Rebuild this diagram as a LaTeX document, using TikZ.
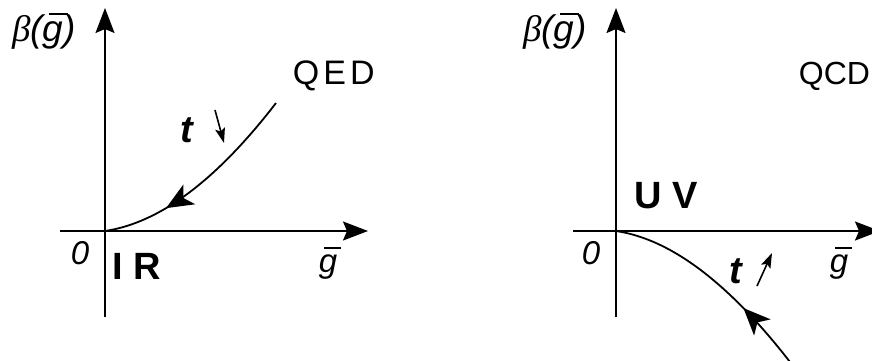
\documentclass[tikz,border=0pt]{standalone}
\usepackage{fontspec}
\setmainfont{Liberation Sans}
\newfontfamily\greekfont{Liberation Serif}
\usetikzlibrary{arrows.meta,decorations.markings}
\newcommand\mygbar{\makebox[0pt][l]{\kern0.17em\raisebox{0.72em}{\rule{0.5em}{0.065em}}}g}
\begin{document}
\begin{tikzpicture}[x=1pt,y=-1pt,line width=1.8pt,
  axisline/.style={-{Stealth[length=25pt,width=19pt,inset=4pt]}},
  smallarrow/.style={line width=1.6pt,-{Stealth[length=15pt,width=10pt,inset=3pt]}},
  flowline/.style={postaction={decorate},decoration={markings,
     mark=at position #1 with {\arrow{Stealth[length=27pt,width=23pt,inset=7pt]}}}},
  lbl/.style={inner sep=0pt},
  betalbl/.style={lbl,font=\fontsize{37}{42}\selectfont},
  gaxlbl/.style={lbl,font=\fontsize{33}{40}\selectfont\itshape},
  zerolbl/.style={lbl,font=\fontsize{33}{40}\selectfont\itshape},
  reglbl/.style={lbl,font=\fontsize{38}{44}\selectfont\bfseries},
  theorylbl/.style={lbl,font=\fontsize{34}{40}\selectfont},
  tlbl/.style={lbl,font=\fontsize{38}{42}\selectfont\bfseries\itshape}]
\useasboundingbox (0,0) rectangle (872,360);
% left panel
\coordinate (O1) at (105,231);
\coordinate (Y1t) at (105,8);
\coordinate (Y1b) at (105,317);
\coordinate (X1l) at (60,231);
\coordinate (X1r) at (368,231);
\coordinate (E1) at (276,103);
\coordinate (s1a) at (215,110);
\coordinate (s1b) at (224,143);
\draw[axisline] (Y1b) -- (Y1t);
\draw[axisline] (X1l) -- (X1r);
\draw[flowline=0.70] (E1) .. controls (219,177) and (162,222.5) .. (O1);
\draw[smallarrow] (s1a) -- (s1b);
\node[betalbl] (b1) at (44,31) {{\greekfont\itshape β}{\itshape(\mygbar)}};
\node[gaxlbl] (g1) at (328,263) {\mygbar};
\node[zerolbl] (z1) at (80,253) {0};
\node[reglbl,anchor=west] (ir) at (112,266) {I R};
\node[theorylbl,anchor=west] (qed) at (292,76) {Q\kern4pt E\kern4pt D};
\node[tlbl] (t1) at (187,130) {t};
% right panel
\coordinate (O2) at (616,231);
\coordinate (Y2t) at (616,8);
\coordinate (Y2b) at (616,317);
\coordinate (X2l) at (573,231);
\coordinate (X2r) at (880,231);
\coordinate (E2) at (790,362);
\coordinate (s2a) at (757,286);
\coordinate (s2b) at (772,253);
\draw[axisline] (Y2b) -- (Y2t);
\draw[axisline] (X2l) -- (X2r);
\draw[flowline=0.32] (E2) .. controls (731,286) and (673,239.5) .. (O2);
\draw[smallarrow] (s2a) -- (s2b);
\node[betalbl] (b2) at (555,31) {{\greekfont\itshape β}{\itshape(\mygbar)}};
\node[gaxlbl] (g2) at (839,263) {\mygbar};
\node[zerolbl] (z2) at (591,253) {0};
\node[reglbl,anchor=west] (uv) at (634,196) {U V};
\node[theorylbl,anchor=west,font=\fontsize{32}{38}\selectfont] (qcd) at (798,76) {QCD};
\node[tlbl] (t2) at (736,271) {t};
\end{tikzpicture}
\end{document}
